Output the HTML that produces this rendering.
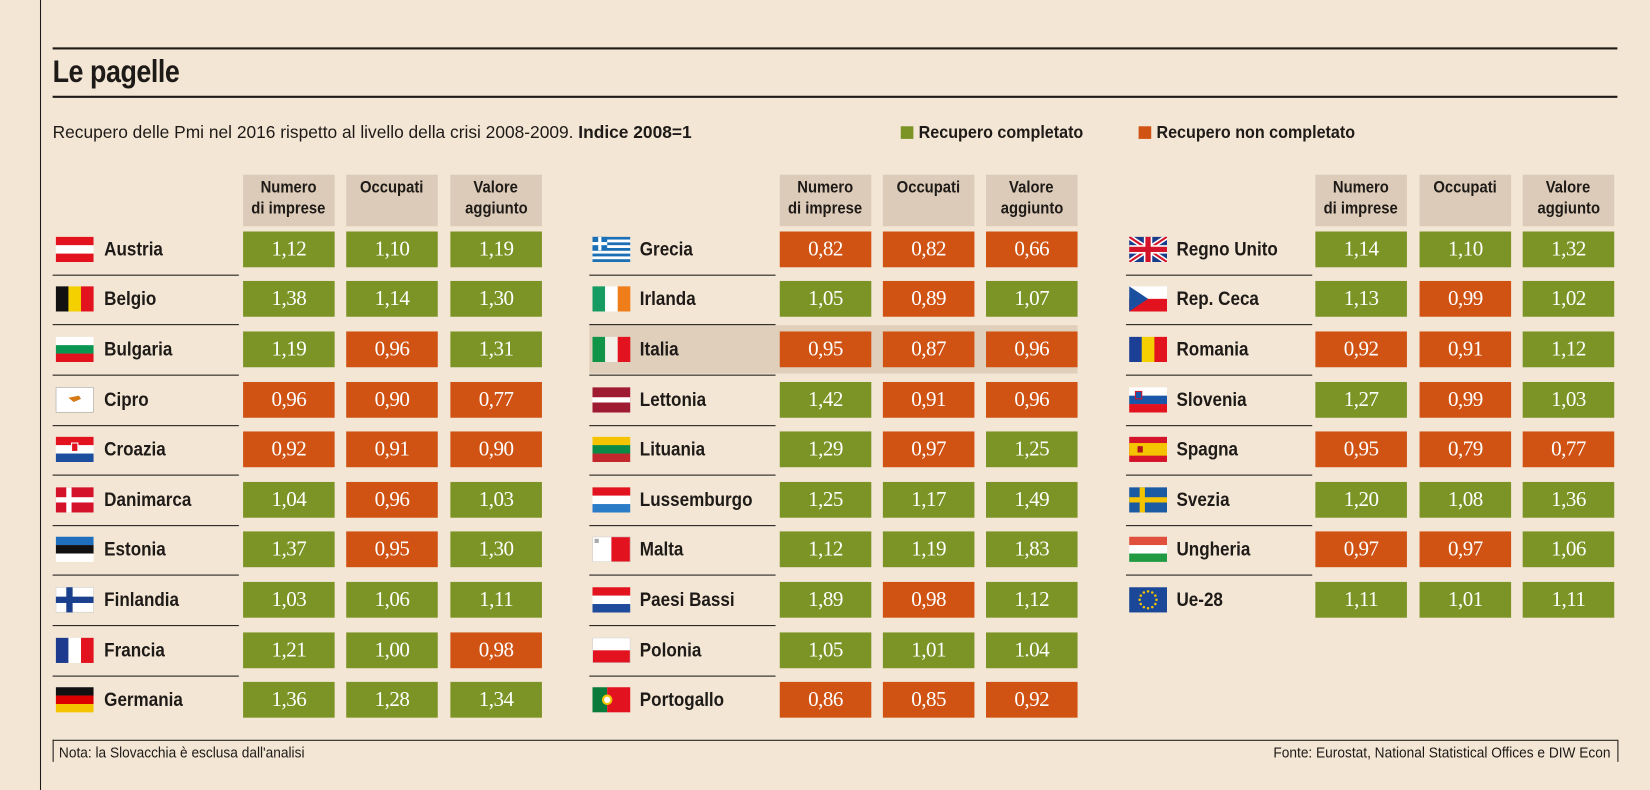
<!DOCTYPE html>
<html><head><meta charset="utf-8">
<style>
html,body{margin:0;padding:0;background:#f3e6d5;}
body{width:1650px;height:790px;overflow:hidden;position:relative;}
#w{position:absolute;left:0;top:0;width:1568px;height:751px;transform:scale(1.05230);transform-origin:0 0;font-family:"Liberation Sans Narrow","Liberation Sans",sans-serif;color:#1e1a17;}
.a{position:absolute;}
.ln{position:absolute;background:#1e1a17;}
.hd{position:absolute;width:87px;height:49px;background:#dccbb8;font-weight:bold;font-size:16px;line-height:20px;text-align:center;padding-top:3px;box-sizing:border-box;}
.hd span{display:inline-block;transform:scaleX(0.88);white-space:nowrap;}
.c{position:absolute;width:87px;height:34px;line-height:35px;text-align:center;color:#fff;font-family:"Liberation Serif",serif;font-size:20px;letter-spacing:-0.5px;}
.g{background:#7c9426;}.o{background:#d05314;}
.nm{position:absolute;font-size:18px;font-weight:bold;line-height:24px;transform:scaleX(0.9);transform-origin:0 50%;white-space:nowrap;}
.fl{position:absolute;width:36px;height:24px;}
</style></head><body>
<div id="w">
<div class="ln" style="left:38px;top:0;width:1px;height:751px"></div>
<div class="ln" style="left:50px;top:45px;width:1487px;height:1.5px"></div>
<div class="a" style="left:50px;top:52px;font-size:30px;font-weight:bold;letter-spacing:-0.5px;transform:scaleX(0.85);transform-origin:0 0">Le pagelle</div>
<div class="ln" style="left:50px;top:91px;width:1487px;height:1.5px"></div>
<div class="a" style="left:50px;top:116px;font-size:17px;transform:scaleX(0.97);transform-origin:0 0;white-space:nowrap">Recupero delle Pmi nel 2016 rispetto al livello della crisi 2008-2009. <b>Indice 2008=1</b></div>
<div class="a" style="left:856px;top:120px;width:12px;height:12px;background:#7c9426"></div>
<div class="a" style="left:873px;top:116px;font-size:17px;font-weight:bold;transform:scaleX(0.9);transform-origin:0 0;white-space:nowrap">Recupero completato</div>
<div class="a" style="left:1082px;top:120px;width:12px;height:12px;background:#d05314"></div>
<div class="a" style="left:1099px;top:116px;font-size:17px;font-weight:bold;transform:scaleX(0.9);transform-origin:0 0;white-space:nowrap">Recupero non completato</div>
<div class="a" style="left:560px;top:309px;width:464px;height:46px;background:#e0cfbb"></div>
<div class="ln" style="left:50px;top:703px;width:1487px;height:1px"></div>
<div class="ln" style="left:50px;top:703px;width:1px;height:21px"></div>
<div class="ln" style="left:1537px;top:703px;width:1px;height:21px"></div>
<div class="a" style="left:56px;top:707px;font-size:14px;transform:scaleX(0.93);transform-origin:0 0;white-space:nowrap">Nota: la Slovacchia è esclusa dall'analisi</div>
<div class="a" style="right:38px;top:707px;font-size:14px;transform:scaleX(0.93);transform-origin:100% 0;white-space:nowrap">Fonte: Eurostat, National Statistical Offices e DIW Econ</div>
</div>
<script>
var F={
h:function(c){var n=c.length,h=24/n,s='';c.forEach(function(x,i){s+='<rect x="0" y="'+(i*h)+'" width="36" height="'+(h+0.2)+'" fill="'+x+'"/>'});return s;},
v:function(c){var n=c.length,w=36/n,s='';c.forEach(function(x,i){s+='<rect x="'+(i*w)+'" y="0" width="'+(w+0.2)+'" height="24" fill="'+x+'"/>'});return s;}
};
var R='#e2121f',W='#fff';
var flags={
Austria:F.h([R,W,R]),Belgio:F.v(['#111','#f5d000',R]),Bulgaria:F.h([W,'#0a9650',R]),
Cipro:'<rect width="36" height="24" fill="#fff" stroke="#999"/><path d="M12 10 L22 8 L24 11 L17 14 Z" fill="#d47a16"/>',
Croazia:F.h([R,W,'#1d4e9e'])+'<rect x="15" y="6" width="6" height="8" fill="#e2121f" stroke="#fff"/>',
Danimarca:'<rect width="36" height="24" fill="#d4132a"/><rect x="10" width="5" height="24" fill="#fff"/><rect y="9.5" width="36" height="5" fill="#fff"/>',
Estonia:F.h(['#1f6fbe','#111',W]),
Finlandia:'<rect width="36" height="24" fill="#fff" stroke="#ccc"/><rect x="10" width="6" height="24" fill="#1a3f8c"/><rect y="9" width="36" height="6" fill="#1a3f8c"/>',
Francia:F.v(['#1e3a8f',W,R]),Germania:F.h(['#111','#dd0000','#f5c400']),
Grecia:F.h(['#1a6fb5',W,'#1a6fb5',W,'#1a6fb5',W,'#1a6fb5',W,'#1a6fb5'])+'<rect width="14" height="13" fill="#1a6fb5"/><rect x="5.5" width="3" height="13" fill="#fff"/><rect y="5" width="14" height="3" fill="#fff"/>',
Irlanda:F.v(['#169b62',W,'#ef7d1a']),Italia:F.v(['#109447','#f4f0ea',R]),
Lettonia:'<rect width="36" height="24" fill="#9e1b32"/><rect y="9.5" width="36" height="5" fill="#fff"/>',
Lituania:F.h(['#f5c400','#0a8a44','#c1272d']),Lussemburgo:F.h([R,W,'#2b7cc7']),
Malta:F.v([W,R])+'<rect x="2" y="2" width="4" height="4" fill="#aaa"/><rect width="36" height="24" fill="none" stroke="#ccc"/>',
'Paesi Bassi':F.h([R,W,'#1f4b9c']),Polonia:F.h([W,R])+'<rect width="36" height="24" fill="none" stroke="#ccc"/>',
Portogallo:'<rect width="14" height="24" fill="#0a7a3a"/><rect x="14" width="22" height="24" fill="#e2121f"/><circle cx="14" cy="12" r="5" fill="#f5c400"/><circle cx="14" cy="12" r="3" fill="#fff"/>',
'Regno Unito':'<rect width="36" height="24" fill="#1a3a8a"/><path d="M0 0L36 24M36 0L0 24" stroke="#fff" stroke-width="5"/><path d="M0 0L36 24M36 0L0 24" stroke="#d4132a" stroke-width="2"/><rect x="14" width="8" height="24" fill="#fff"/><rect y="8" width="36" height="8" fill="#fff"/><rect x="15.5" width="5" height="24" fill="#d4132a"/><rect y="9.5" width="36" height="5" fill="#d4132a"/>',
'Rep. Ceca':F.h([W,R])+'<path d="M0 0L18 12L0 24Z" fill="#1a4e9e"/>',
Romania:F.v(['#1a3f95','#f5d000',R]),Slovenia:F.h([W,'#1a56a8',R])+'<rect x="6" y="4" width="6" height="7" fill="#1a56a8" stroke="#d4132a"/>',
Spagna:'<rect width="36" height="24" fill="#d4132a"/><rect y="6" width="36" height="12" fill="#f5c400"/><rect x="8" y="9" width="5" height="6" fill="#b3131b"/>',
Svezia:'<rect width="36" height="24" fill="#1b5ba3"/><rect x="10" width="5" height="24" fill="#f5c400"/><rect y="9.5" width="36" height="5" fill="#f5c400"/>',
Ungheria:F.h(['#e0503c',W,'#1f9a42']),
'Ue-28':'<rect width="36" height="24" fill="#1a4798"/>'+(function(){var s='';for(var i=0;i<12;i++){var a=i*Math.PI/6;s+='<circle cx="'+(18+8*Math.cos(a))+'" cy="'+(12+8*Math.sin(a))+'" r="1.2" fill="#f5c400"/>';}return s;})()
};
var groups=[
{fx:53,nx:99,lx:50,cx:[231,329,428],rows:[
['Austria','1,12','1,10','1,19'],['Belgio','1,38','1,14','1,30'],['Bulgaria','1,19','0,96','1,31'],['Cipro','0,96','0,90','0,77'],['Croazia','0,92','0,91','0,90'],['Danimarca','1,04','0,96','1,03'],['Estonia','1,37','0,95','1,30'],['Finlandia','1,03','1,06','1,11'],['Francia','1,21','1,00','0,98'],['Germania','1,36','1,28','1,34']]},
{fx:563,nx:608,lx:560,cx:[741,839,937],rows:[
['Grecia','0,82','0,82','0,66'],['Irlanda','1,05','0,89','1,07'],['Italia','0,95','0,87','0,96'],['Lettonia','1,42','0,91','0,96'],['Lituania','1,29','0,97','1,25'],['Lussemburgo','1,25','1,17','1,49'],['Malta','1,12','1,19','1,83'],['Paesi Bassi','1,89','0,98','1,12'],['Polonia','1,05','1,01','1.04'],['Portogallo','0,86','0,85','0,92']]},
{fx:1073,nx:1118,lx:1070,cx:[1250,1349,1447],rows:[
['Regno Unito','1,14','1,10','1,32'],['Rep. Ceca','1,13','0,99','1,02'],['Romania','0,92','0,91','1,12'],['Slovenia','1,27','0,99','1,03'],['Spagna','0,95','0,79','0,77'],['Svezia','1,20','1,08','1,36'],['Ungheria','0,97','0,97','1,06'],['Ue-28','1,11','1,01','1,11']]}];
var cy=[237,284,332,380,427,475,522,570,618,665];
var heads=['<span>Numero</span><br><span>di imprese</span>','<span>Occupati</span>','<span>Valore</span><br><span>aggiunto</span>'];
var h='';
groups.forEach(function(g){
 g.cx.forEach(function(x,i){h+='<div class="hd" style="left:'+x+'px;top:166px">'+heads[i]+'</div>';});
 g.rows.forEach(function(r,i){
  var y=cy[i];
  h+='<svg class="fl" style="left:'+g.fx+'px;top:'+(y-12)+'px" viewBox="0 0 36 24">'+flags[r[0]]+'</svg>';
  h+='<div class="nm" style="left:'+g.nx+'px;top:'+(y-12)+'px">'+r[0]+'</div>';
  for(var k=1;k<4;k++){var v=parseFloat(r[k].replace(',','.'));h+='<div class="c '+(v>=1?'g':'o')+'" style="left:'+g.cx[k-1]+'px;top:'+(y-17)+'px">'+r[k]+'</div>';}
  if(i<g.rows.length-1)h+='<div class="ln" style="left:'+g.lx+'px;top:'+(y+24)+'px;width:177px;height:1.3px"></div>';
 });
});
document.getElementById('w').insertAdjacentHTML('beforeend',h);
</script>
</body></html>
